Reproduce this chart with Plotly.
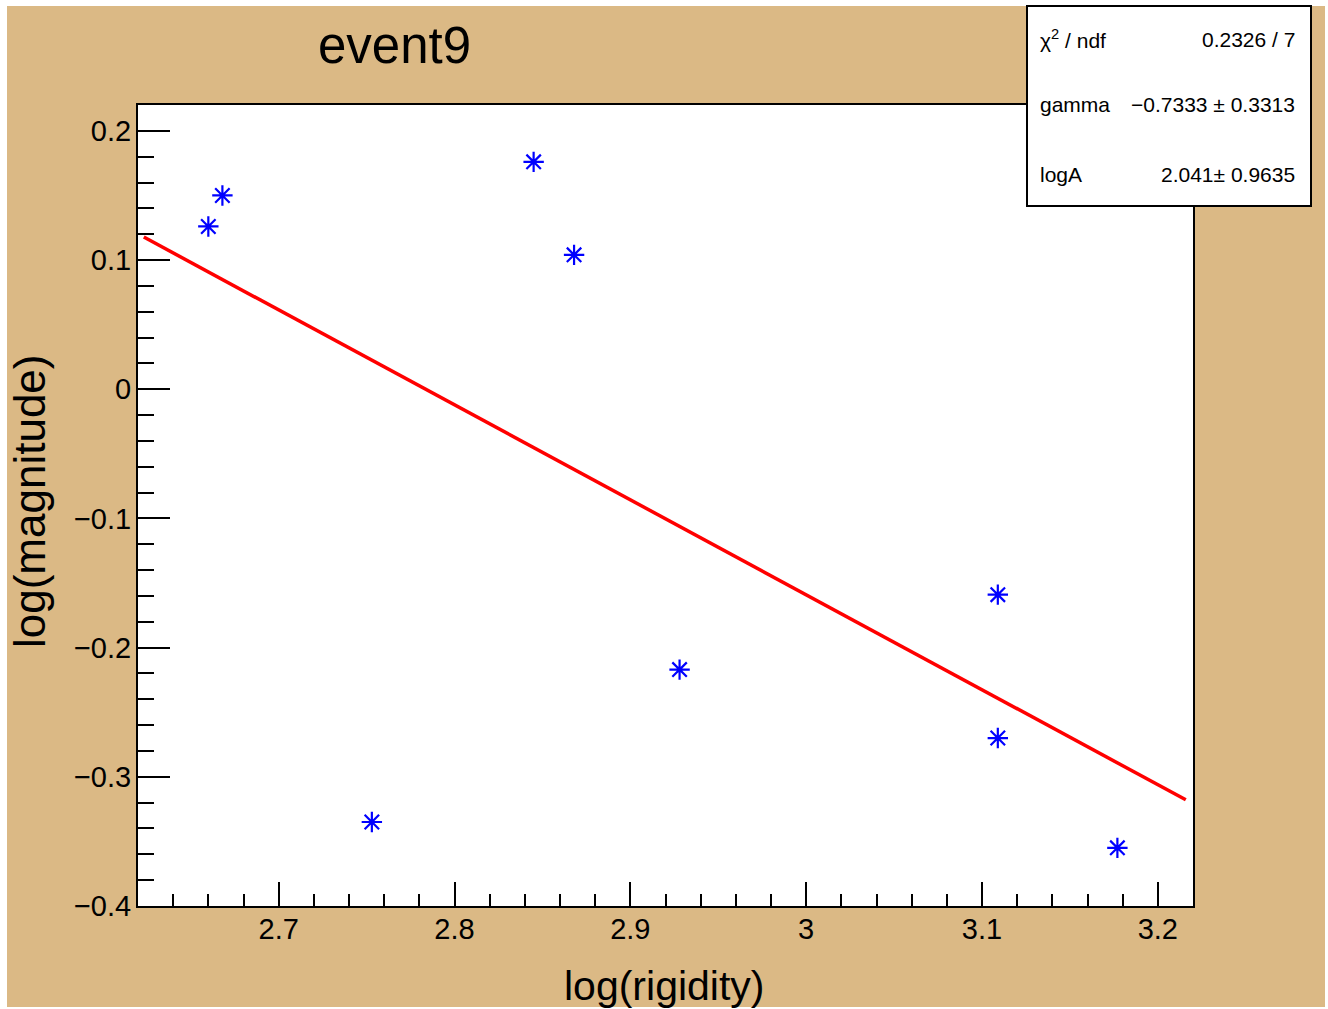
import plotly.graph_objects as go

# Data
log_rigidity = [2.660, 2.668, 2.753, 2.845, 2.868, 2.928, 3.109, 3.109, 3.177]
log_magnitude = [0.126, 0.150, -0.335, 0.176, 0.104, -0.217, -0.159, -0.270, -0.355]

fit_x = [2.6233, 3.2159]
fit_y = [0.1178, -0.3178]

stat_labels = ["\u03c7<sup>2</sup> / ndf", "gamma", "logA"]
stat_values = ["0.2326 / 7", "\u22120.7333 \u00b1 0.3313", "2.041\u00b1 0.9635"]

x_tickvals = [2.7, 2.8, 2.9, 3.0, 3.1, 3.2]
x_ticktext = ["2.7", "2.8", "2.9", "3", "3.1", "3.2"]
y_tickvals = [-0.4, -0.3, -0.2, -0.1, 0, 0.1, 0.2]
y_ticktext = ["\u22120.4", "\u22120.3", "\u22120.2", "\u22120.1", "0", "0.1", "0.2"]

W, H = 1328, 1009
L, R, T, B = 138, 1193, 105, 906
PW, PH = R - L, B - T


def px(x):
    return (x - L) / PW


def py(y):
    return (B - y) / PH


TAN = "#dbb985"
FONT = "Liberation Sans, Arial, sans-serif"

fig = go.Figure()
fig.add_trace(go.Scatter(x=fit_x, y=fit_y, mode="lines",
                         line=dict(color="#ff0000", width=3.5),
                         showlegend=False, hoverinfo="skip"))
fig.add_trace(go.Scatter(x=log_rigidity, y=log_magnitude, mode="markers",
                         marker=dict(symbol="asterisk-open", size=17,
                                     line=dict(color="#0000ff", width=2.2),
                                     color="#0000ff"),
                         showlegend=False))

shapes = [
    dict(type="rect", xref="paper", yref="paper", layer="below",
         x0=px(7), x1=px(1325), y0=py(1007), y1=py(6),
         fillcolor=TAN, line=dict(width=0)),
    dict(type="rect", xref="paper", yref="paper", layer="below",
         x0=0, x1=1, y0=0, y1=1, fillcolor="white", line=dict(width=0)),
    dict(type="rect", xref="paper", yref="paper", layer="above",
         x0=px(1027), x1=px(1311), y0=py(206), y1=py(6),
         fillcolor="white", line=dict(color="black", width=2)),
]

annotations = [
    dict(text="event9", x=px(394), y=py(45), xref="paper", yref="paper",
         xanchor="center", yanchor="middle", showarrow=False,
         font=dict(family=FONT, size=51, color="black")),
    dict(text="log(rigidity)", x=px(664), y=py(986), xref="paper", yref="paper",
         xanchor="center", yanchor="middle", showarrow=False,
         font=dict(family=FONT, size=41, color="black")),
    dict(text="log(magnitude)", x=px(29), y=py(501), xref="paper", yref="paper",
         xanchor="center", yanchor="middle", showarrow=False, textangle=-90,
         font=dict(family=FONT, size=44, color="black")),
]

rows_y = [39, 104, 174]
for lab, val, ry in zip(stat_labels, stat_values, rows_y):
    annotations.append(dict(text=lab, x=px(1038), y=py(ry), xref="paper", yref="paper",
                            xanchor="left", yanchor="middle", showarrow=False,
                            font=dict(family=FONT, size=21, color="black")))
    annotations.append(dict(text=val, x=px(1297), y=py(ry), xref="paper", yref="paper",
                            xanchor="right", yanchor="middle", showarrow=False,
                            font=dict(family=FONT, size=21, color="black")))

fig.update_layout(
    width=W, height=H,
    margin=dict(l=L, r=W - R, t=T, b=H - B, pad=0),
    paper_bgcolor="white",
    plot_bgcolor="white",
    shapes=shapes,
    annotations=annotations,
    font=dict(family=FONT, color="black"),
)

fig.update_xaxes(
    range=[2.62, 3.22], showgrid=False, zeroline=False,
    showline=True, linecolor="black", linewidth=2, mirror=True,
    ticks="inside", ticklen=24, tickwidth=2, tickcolor="black",
    tickvals=x_tickvals, ticktext=x_ticktext,
    tickfont=dict(family=FONT, size=29, color="black"),
    ticklabelstandoff=-4,
    minor=dict(ticks="inside", ticklen=12, tickwidth=2, tickcolor="black",
               dtick=0.02, tick0=2.7, showgrid=False),
)
fig.update_yaxes(
    range=[-0.4, 0.22], showgrid=False, zeroline=False,
    showline=True, linecolor="black", linewidth=2, mirror=True,
    ticks="inside", ticklen=32, tickwidth=2, tickcolor="black",
    tickvals=y_tickvals, ticktext=y_ticktext,
    tickfont=dict(family=FONT, size=29, color="black"),
    ticklabelstandoff=-1,
    minor=dict(ticks="inside", ticklen=16, tickwidth=2, tickcolor="black",
               dtick=0.02, tick0=0, showgrid=False),
)

fig.write_html("out.html")
